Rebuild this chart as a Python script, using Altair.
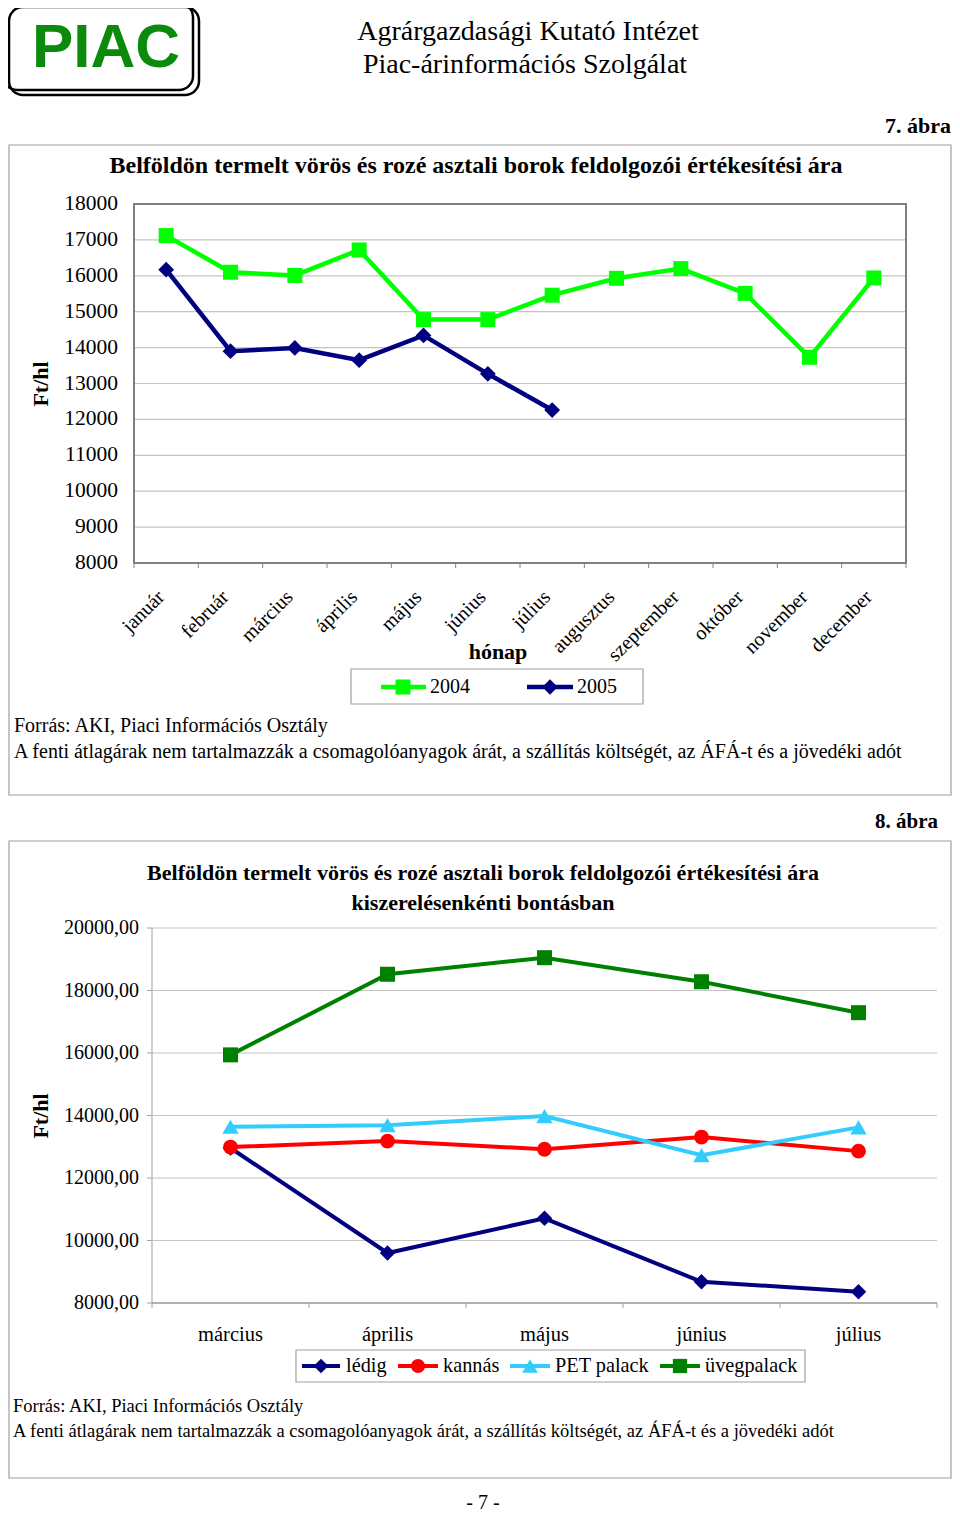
import altair as alt
import pandas as pd

# ---------------- data ----------------
MONTHS = ["január", "február", "március", "április", "május", "június",
          "július", "augusztus", "szeptember", "október", "november", "december"]
SERIES1 = ["2004", "2005"]
Y2004 = [17120, 16100, 16010, 16720, 14780, 14780, 15460, 15930, 16200, 15510, 13730, 15940]
Y2005 = [16170, 13900, 13990, 13650, 14340, 13270, 12260]
Y1_TICKS = [8000, 9000, 10000, 11000, 12000, 13000, 14000, 15000, 16000, 17000, 18000]
Y1_LABELS = ["8000", "9000", "10000", "11000", "12000", "13000", "14000", "15000", "16000", "17000", "18000"]

MONTHS2 = ["március", "április", "május", "június", "július"]
SERIES2 = ["lédig", "kannás", "PET palack", "üvegpalack"]
LEDIG = [12960, 9600, 10710, 8680, 8360]
KANNAS = [12990, 13180, 12920, 13310, 12860]
PET = [13640, 13690, 13980, 12730, 13620]
UVEG = [15940, 18520, 19050, 18280, 17290]
Y2_TICKS = [8000, 10000, 12000, 14000, 16000, 18000, 20000]
Y2_LABELS = ["8000,00", "10000,00", "12000,00", "14000,00", "16000,00", "18000,00", "20000,00"]

HEAD1 = "Agrárgazdasági Kutató Intézet"
HEAD2 = "Piac-árinformációs Szolgálat"
LOGO = "PIAC"
FIG1 = "7. ábra"
FIG2 = "8. ábra"
TITLE1 = "Belföldön termelt vörös és rozé asztali borok feldolgozói értékesítési ára"
TITLE2B = "kiszerelésenkénti bontásban"
YTITLE = "Ft/hl"
XTITLE1 = "hónap"
SRC = "Forrás: AKI, Piaci Információs Osztály"
NOTE = ("A fenti átlagárak nem tartalmazzák a csomagolóanyagok árát, "
        "a szállítás költségét, az ÁFÁ-t és a jövedéki adót")
PAGE = "- 7 -"

# ---------------- styles ----------------
SERIF = "Liberation Serif"
SANS = "Liberation Sans"
LIME = "#00FF00"
NAVY = "#000080"
RED = "#FF0000"
CYAN = "#33CCFF"
DKGREEN = "#008000"
LOGOGREEN = "#0B8A0B"
BOXGRAY = "#A0A0A0"
GRID = "#C4C4C4"
RIGHT = 951  # right-most page pixel that the chart can draw on


def P(v):
    """page pixel -> chart pixel (page has an 8px margin)"""
    return v - 8


ONE = pd.DataFrame({"k": [0]})


def txt(s, x, y, size, bold=False, align="left", angle=0, color="black", font=SERIF,
        baseline="middle"):
    return alt.Chart(pd.DataFrame({"t": [s]})).mark_text(
        align=align, baseline=baseline, fontSize=size,
        fontWeight="bold" if bold else "normal", font=font, color=color, angle=angle
    ).encode(text="t:N", x=alt.value(P(x)), y=alt.value(P(y)))


def box(x1, y1, x2, y2, stroke=BOXGRAY, sw=1.2, fill="white", radius=0):
    kw = dict(stroke=stroke, strokeWidth=sw, cornerRadius=radius)
    if fill is None:
        kw["fillOpacity"] = 0
        kw["fill"] = "white"
    else:
        kw["fill"] = fill
    return alt.Chart(ONE).mark_rect(**kw).encode(
        x=alt.value(P(x1)), x2=alt.value(P(x2)), y=alt.value(P(y1)), y2=alt.value(P(y2)))


def seg(x1, x2, y, color, sw):
    return alt.Chart(ONE).mark_rule(color=color, strokeWidth=sw).encode(
        x=alt.value(P(x1)), x2=alt.value(P(x2)), y=alt.value(P(y)))


def marker(x, y, shape, color, size):
    return alt.Chart(ONE).mark_point(shape=shape, filled=True, opacity=1, color=color, size=size).encode(
        x=alt.value(P(x)), y=alt.value(P(y)))


layers = []

# ---------------- header ----------------
layers += [
    box(3, 3, 193, 90, stroke="black", sw=2.5, fill=None, radius=14),
    box(9, 7, 199, 95, stroke="black", sw=2.5, fill=None, radius=14),
    txt(LOGO, 106, 67, 62, bold=True, align="center", color=LOGOGREEN, font=SANS, baseline="alphabetic"),
    txt(HEAD1, 528, 32, 28, align="center"),
    txt(HEAD2, 525, 65, 28, align="center"),
    txt(FIG1, RIGHT, 126, 22, bold=True, align="right"),
]

# ---------------- chart 1 ----------------
X1L, X1R, Y1T, Y1B = 134, 906, 204, 563
Y1S = alt.Scale(domain=[8000, 18000], range=[P(Y1B), P(Y1T)], nice=False, zero=False)
X1S = alt.Scale(type="point", domain=MONTHS, range=[P(X1L), P(X1R)], padding=0.5)
X1B = alt.Scale(type="band", domain=MONTHS, range=[P(X1L), P(X1R)], paddingInner=0, paddingOuter=0)

layers.append(box(9, 145, RIGHT, 795))
layers.append(txt(TITLE1, 476, 166, 24, bold=True, align="center"))

ticks1 = pd.DataFrame({"v": Y1_TICKS, "lab": Y1_LABELS})
layers.append(alt.Chart(ticks1).mark_rule(color=GRID, strokeWidth=1.2).encode(
    y=alt.Y("v:Q", scale=Y1S, axis=None), x=alt.value(P(X1L)), x2=alt.value(P(X1R))))
layers.append(alt.Chart(ticks1).mark_text(align="right", baseline="middle", fontSize=21.5, font=SERIF).encode(
    y=alt.Y("v:Q", scale=Y1S, axis=None), x=alt.value(P(118)), text="lab:N"))
layers.append(box(X1L, Y1T, X1R, Y1B, stroke="#808080", sw=2, fill=None))

m1 = pd.DataFrame({"m": MONTHS})
layers.append(alt.Chart(m1).mark_rule(color="#808080", strokeWidth=1).encode(
    x=alt.X("m:N", scale=X1B, axis=None, bandPosition=0), y=alt.value(P(Y1B)), y2=alt.value(P(Y1B + 5))))
layers.append(alt.Chart(ONE).mark_rule(color="#808080", strokeWidth=1).encode(
    x=alt.value(P(X1R)), y=alt.value(P(Y1B)), y2=alt.value(P(Y1B + 5))))
layers.append(alt.Chart(m1).mark_text(align="right", baseline="middle", fontSize=20, font=SERIF,
                                      angle=315, dx=-7).encode(
    x=alt.X("m:N", scale=X1S, axis=None), y=alt.value(P(589)), text="m:N"))

d2004 = pd.DataFrame({"m": MONTHS, "v": Y2004})
d2005 = pd.DataFrame({"m": MONTHS[:len(Y2005)], "v": Y2005})
for d, col, shp, sz in [(d2004, LIME, "square", 225), (d2005, NAVY, "diamond", 250)]:
    enc = dict(x=alt.X("m:N", scale=X1S, axis=None, sort=MONTHS), y=alt.Y("v:Q", scale=Y1S, axis=None))
    layers.append(alt.Chart(d).mark_line(color=col, strokeWidth=4.5).encode(**enc))
    layers.append(alt.Chart(d).mark_point(shape=shp, filled=True, opacity=1, color=col, size=sz).encode(**enc))

layers.append(txt(YTITLE, 41, 384, 22, bold=True, align="center", angle=270))
layers.append(txt(XTITLE1, 498, 652, 22, bold=True, align="center"))

# legend 1
layers += [
    box(351, 669, 643, 704),
    seg(381, 426, 687, LIME, 4.5), marker(403, 687, "square", LIME, 225),
    txt(SERIES1[0], 430, 687, 20),
    seg(527, 573, 687, NAVY, 4.5), marker(550, 687, "diamond", NAVY, 240),
    txt(SERIES1[1], 577, 687, 20),
]
layers.append(txt(SRC, 14, 726, 20))
layers.append(txt(NOTE, 14, 752, 20))

# ---------------- chart 2 ----------------
X2L, X2R, Y2T, Y2B = 152, 937, 928, 1303
Y2S = alt.Scale(domain=[8000, 20000], range=[P(Y2B), P(Y2T)], nice=False, zero=False)
X2S = alt.Scale(type="point", domain=MONTHS2, range=[P(X2L), P(X2R)], padding=0.5)
X2B = alt.Scale(type="band", domain=MONTHS2, range=[P(X2L), P(X2R)], paddingInner=0, paddingOuter=0)

layers.append(txt(FIG2, 938, 822, 21, bold=True, align="right"))
layers.append(box(9, 841, RIGHT, 1478))
layers.append(txt(TITLE1, 483, 873, 22, bold=True, align="center"))
layers.append(txt(TITLE2B, 483, 903, 22, bold=True, align="center"))

ticks2 = pd.DataFrame({"v": Y2_TICKS, "lab": Y2_LABELS})
layers.append(alt.Chart(ticks2).mark_rule(color=GRID, strokeWidth=1.2).encode(
    y=alt.Y("v:Q", scale=Y2S, axis=None), x=alt.value(P(X2L)), x2=alt.value(P(X2R))))
layers.append(alt.Chart(ticks2).mark_rule(color="#A0A0A0", strokeWidth=1).encode(
    y=alt.Y("v:Q", scale=Y2S, axis=None), x=alt.value(P(X2L - 5)), x2=alt.value(P(X2L))))
layers.append(alt.Chart(ticks2).mark_text(align="right", baseline="middle", fontSize=20, font=SERIF).encode(
    y=alt.Y("v:Q", scale=Y2S, axis=None), x=alt.value(P(139)), text="lab:N"))
layers.append(alt.Chart(ONE).mark_rule(color="#B0B0B0", strokeWidth=1.2).encode(
    x=alt.value(P(X2L)), y=alt.value(P(Y2T)), y2=alt.value(P(Y2B))))
layers.append(seg(X2L, X2R, Y2B, "#A0A0A0", 1.5))

m2 = pd.DataFrame({"m": MONTHS2})
layers.append(alt.Chart(m2).mark_rule(color="#A0A0A0", strokeWidth=1).encode(
    x=alt.X("m:N", scale=X2B, axis=None, bandPosition=0), y=alt.value(P(Y2B)), y2=alt.value(P(Y2B + 5))))
layers.append(alt.Chart(ONE).mark_rule(color="#A0A0A0", strokeWidth=1).encode(
    x=alt.value(P(X2R)), y=alt.value(P(Y2B)), y2=alt.value(P(Y2B + 5))))
layers.append(alt.Chart(m2).mark_text(align="center", baseline="middle", fontSize=20.5, font=SERIF).encode(
    x=alt.X("m:N", scale=X2S, axis=None), y=alt.value(P(1335)), text="m:N"))

S2 = [(LEDIG, NAVY, "diamond", 240), (KANNAS, RED, "circle", 220),
      (PET, CYAN, "triangle-up", 270), (UVEG, DKGREEN, "square", 225)]
for vals, col, shp, sz in S2:
    d = pd.DataFrame({"m": MONTHS2, "v": vals})
    enc = dict(x=alt.X("m:N", scale=X2S, axis=None, sort=MONTHS2), y=alt.Y("v:Q", scale=Y2S, axis=None))
    layers.append(alt.Chart(d).mark_line(color=col, strokeWidth=4).encode(**enc))
    layers.append(alt.Chart(d).mark_point(shape=shp, filled=True, opacity=1, color=col, size=sz).encode(**enc))

layers.append(txt(YTITLE, 41, 1116, 22, bold=True, align="center", angle=270))

# legend 2
layers.append(box(296, 1350, 805, 1382))
leg2 = [(302, 340, 321, 346), (398, 438, 418, 443), (510, 550, 530, 555), (660, 700, 680, 705)]
for (xa, xb, xm, xt), (vals, col, shp, sz), name in zip(leg2, S2, SERIES2):
    layers += [seg(xa, xb, 1366, col, 4), marker(xm, 1366, shp, col, sz * 0.9), txt(name, xt, 1366, 20.3)]

layers.append(txt(SRC, 13, 1406, 18.5))
layers.append(txt(NOTE, 13, 1431, 18.5))
layers.append(txt(PAGE, 483, 1503, 20, align="center"))

chart = alt.layer(*layers).resolve_scale(
    x="independent", y="independent"
).properties(
    width=944, height=1507, autosize=alt.AutoSizeParams(type="none"), padding=0, background="white"
).configure_view(stroke=None)

chart.save("out.html", embed_options={"renderer": "svg", "actions": False})
